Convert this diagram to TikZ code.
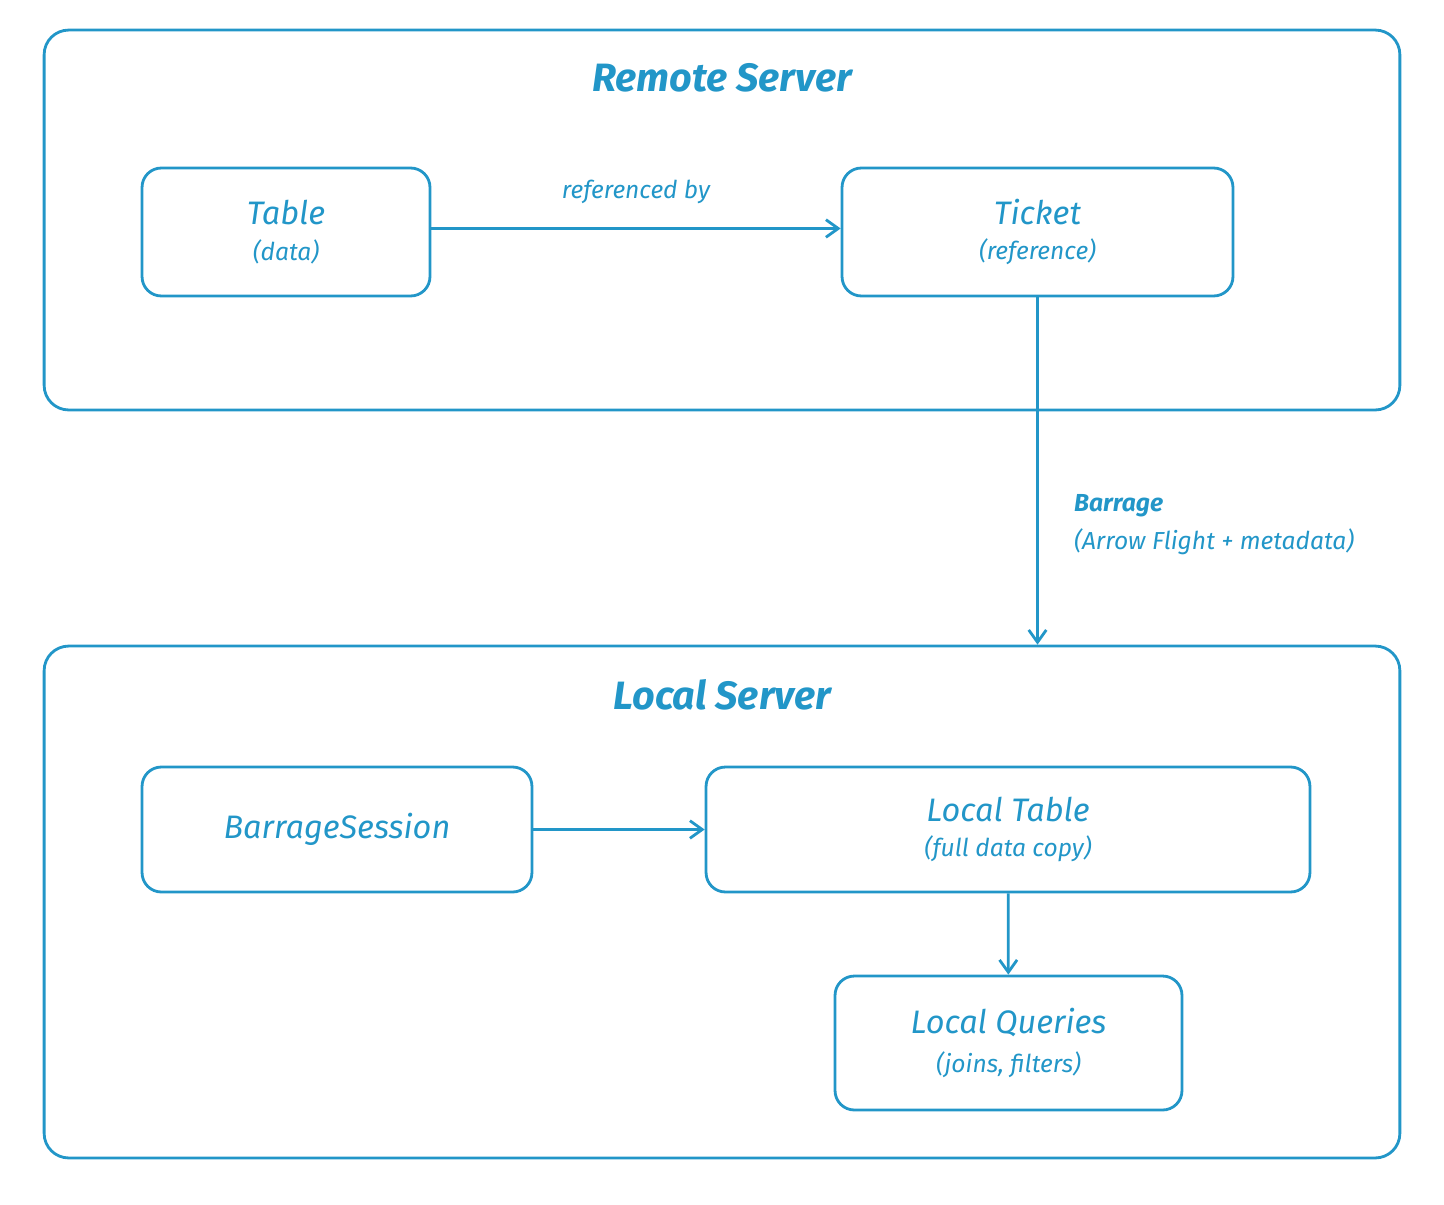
\documentclass[tikz,border=0pt]{standalone}
\usepackage{fontspec}
\setmainfont{Fira Sans}
\usetikzlibrary{arrows.meta,positioning}
\definecolor{ink}{RGB}{34,150,200}
\tikzset{
  server/.style={draw=ink, line width=1.6pt, rounded corners=14pt},
  box/.style={draw=ink, line width=1.6pt, rounded corners=11pt, align=center, text=ink, font=\itshape},
  title/.style={text=ink, font=\bfseries\itshape\fontsize{22.5}{26}\selectfont},
  lbl/.style={text=ink, font=\itshape\fontsize{14}{22}\selectfont},
  flow/.style={draw=ink, line width=1.6pt, -{Straight Barb[length=7pt,width=10pt]}}
}
\newcommand{\mainline}[1]{{\fontsize{18.5}{22}\selectfont #1}}
\newcommand{\subline}[1]{{\fontsize{14}{16}\selectfont #1}}
\begin{document}
\begin{tikzpicture}[x=0.02cm,y=-0.02cm]
\useasboundingbox (0,0) rectangle (1444,1204);
% servers
\node[server, minimum width=27.12cm, minimum height=7.6cm] (remote) at (722,220) {};
\node[server, minimum width=27.12cm, minimum height=10.24cm] (local) at (722,902) {};
\node[title] (remotetitle) at (722,78) {Remote Server};
\node[title] (localtitle) at (722,695) {Local Server};
% remote side
\node[box, minimum width=5.76cm, minimum height=2.56cm] (table) at (286,232) {\mainline{Table}\\[7pt]\subline{(data)}};
\node[box, minimum width=7.82cm, minimum height=2.56cm] (ticket) at (1037.5,232) {\mainline{Ticket}\\[7pt]\subline{(reference)}};
% local side
\node[box, minimum width=7.8cm, minimum height=2.5cm] (session) at (337,829.5) {\mainline{BarrageSession}};
\node[box, minimum width=12.08cm, minimum height=2.5cm] (localtable) at (1008,829.5) {\mainline{Local Table}\\[7pt]\subline{(full data copy)}};
\node[box, minimum width=6.94cm, minimum height=2.68cm] (queries) at (1008.5,1043) {\mainline{Local Queries}\\[7pt]\subline{(joins, filters)}};
% connectors
\draw[flow] ([yshift=2pt]table.east) -- node[lbl, above=10pt] {referenced by} ([yshift=2pt]table.east -| ticket.west);
\draw[flow] (ticket.south) -- (ticket.south |- local.north);
\node[lbl, anchor=north west, align=left] (barrage) at (1068,488) {\textbf{Barrage}\\(Arrow Flight + metadata)};
\draw[flow] (session) -- (localtable);
\draw[flow] (localtable) -- (queries);
\end{tikzpicture}
\end{document}
